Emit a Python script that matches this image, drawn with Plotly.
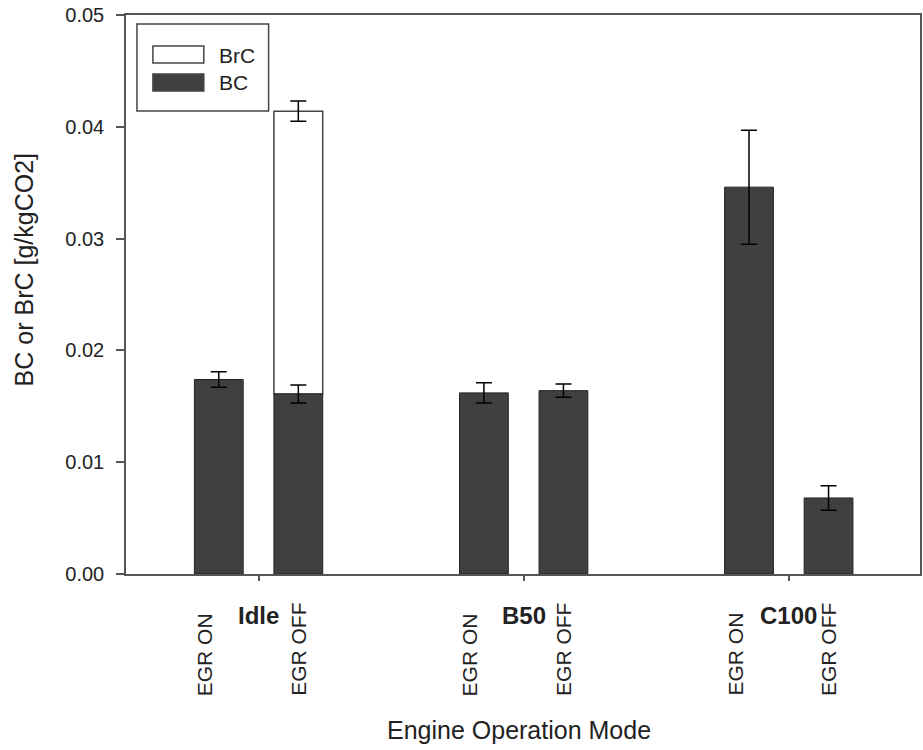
import plotly.graph_objects as go

# Engine operation modes and EGR settings
modes = ["Idle", "B50", "C100"]
egr_settings = ["EGR ON", "EGR OFF"]

# Black carbon emission factors [g/kgCO2] and their error bars
bc_egr_on = [0.0174, 0.0162, 0.0346]
bc_egr_on_err = [0.0007, 0.0009, 0.0051]
bc_egr_off = [0.0161, 0.0164, 0.0068]
bc_egr_off_err = [0.0008, 0.0006, 0.0011]

# Brown carbon, measured on top of BC for Idle with EGR OFF only
brc_mode = "Idle"
brc_value = 0.0253
brc_err = 0.0009

y_ticks = [0.00, 0.01, 0.02, 0.03, 0.04, 0.05]

# Layout of bars inside each group
pair_offset = 0.15
bar_width = 0.184
dark = "#404040"
axis_color = "#555555"
text_color = "#222222"
font_family = "Liberation Sans, Arial, sans-serif"

group_pos = {m: i + 1 for i, m in enumerate(modes)}
on_x = [group_pos[m] - pair_offset for m in modes]
off_x = [group_pos[m] + pair_offset for m in modes]

bc_x = []
bc_y = []
bc_err = []
for i in range(len(modes)):
    bc_x += [on_x[i], off_x[i]]
    bc_y += [bc_egr_on[i], bc_egr_off[i]]
    bc_err += [bc_egr_on_err[i], bc_egr_off_err[i]]

brc_idx = modes.index(brc_mode)
brc_base = bc_egr_off[brc_idx]

fig = go.Figure()

# BrC segment sits on top of the BC bar
fig.add_trace(go.Bar(
    x=[off_x[brc_idx]], y=[brc_value], base=[brc_base], width=bar_width,
    name="BrC",
    marker=dict(color="white", line=dict(color="#444444", width=1.5)),
    error_y=dict(type="data", array=[brc_err], visible=True,
                 color="black", thickness=1.5, width=8),
))

fig.add_trace(go.Bar(
    x=bc_x, y=bc_y, width=bar_width, name="BC",
    marker=dict(color=dark, line=dict(color="#222222", width=1)),
    error_y=dict(type="data", array=bc_err, visible=True,
                 color="black", thickness=1.5, width=8),
))

annotations = []

# Group labels under each tick
for m in modes:
    annotations.append(dict(
        x=group_pos[m], y=-0.0751, xref="x", yref="paper",
        text="<b>%s</b>" % m, showarrow=False,
        xanchor="center", yanchor="middle",
        font=dict(size=24, color=text_color, family=font_family),
    ))

# Rotated EGR labels under each bar
for i in range(len(modes)):
    for xpos, label, shift in ((on_x[i], egr_settings[0], -14),
                               (off_x[i], egr_settings[1], 0)):
        annotations.append(dict(
            x=xpos, y=-0.2218, xref="x", yref="paper",
            text=label, showarrow=False, textangle=-90,
            xanchor="center", yanchor="bottom", xshift=shift,
            font=dict(size=21, color=text_color, family=font_family),
        ))

# Axis titles
annotations.append(dict(
    x=0.495, y=-0.2791, xref="paper", yref="paper",
    text="Engine Operation Mode", showarrow=False,
    xanchor="center", yanchor="middle",
    font=dict(size=25, color=text_color, family=font_family),
))
annotations.append(dict(
    x=-0.128, y=0.5438, xref="paper", yref="paper",
    text="BC or BrC [g/kgCO2]", showarrow=False, textangle=-90,
    xanchor="center", yanchor="middle",
    font=dict(size=25, color=text_color, family=font_family),
))

# Legend box with swatches
legend_items = [("BrC", "white", 0.9141, 0.9445, 0.9284),
                ("BC", dark, 0.8640, 0.8945, 0.8801)]
shapes = [dict(type="rect", xref="paper", yref="paper",
               x0=0.0138, x1=0.1796, y0=0.8283, y1=0.9839,
               line=dict(color="#444444", width=1.5), fillcolor="white")]
for name, color, y0, y1, ytext in legend_items:
    shapes.append(dict(type="rect", xref="paper", yref="paper",
                       x0=0.0339, x1=0.098, y0=y0, y1=y1,
                       line=dict(color="#444444", width=1.5),
                       fillcolor=color))
    annotations.append(dict(
        x=0.1143, y=ytext, xref="paper", yref="paper", text=name,
        showarrow=False, xanchor="left", yanchor="middle",
        font=dict(size=21, color=text_color, family=font_family),
    ))

fig.update_layout(
    width=923, height=750,
    margin=dict(l=126, r=1, t=15, b=176),
    paper_bgcolor="white", plot_bgcolor="white",
    barmode="overlay", showlegend=False,
    font=dict(family=font_family, color=text_color, size=20),
    annotations=annotations, shapes=shapes,
)

fig.update_xaxes(
    range=[0.5, 3.495], tickvals=[group_pos[m] for m in modes],
    showticklabels=False, ticks="outside", ticklen=5, tickwidth=1.5,
    tickcolor=axis_color, showline=True, linecolor=axis_color,
    linewidth=1.5, mirror=True, showgrid=False, zeroline=False,
)
fig.update_yaxes(
    range=[0, 0.05], tickvals=y_ticks, tickformat=".2f",
    ticks="outside", ticklen=8, tickwidth=1.5, tickcolor=axis_color,
    ticklabelstandoff=8,
    tickfont=dict(size=20, color=text_color, family=font_family),
    showline=True, linecolor=axis_color, linewidth=1.5, mirror=True,
    showgrid=False, zeroline=False,
)

fig.write_html("out.html")
